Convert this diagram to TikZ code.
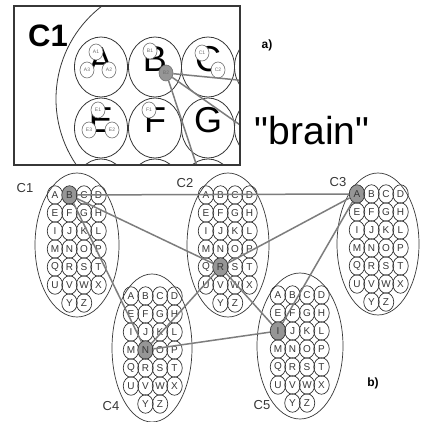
\documentclass[tikz,border=0pt]{standalone}
\usepackage{fontspec}
\setmainfont{Liberation Sans}
\newfontfamily\brainfont[Ligatures=TeXOff]{Liberation Sans}
\usetikzlibrary{shapes.geometric}
\definecolor{ink}{RGB}{55,55,55}
\definecolor{linkgray}{RGB}{125,125,125}
\definecolor{hlgray}{RGB}{150,150,150}
\definecolor{subgray}{RGB}{110,110,110}
\tikzset{
  cell/.style={ellipse, draw=ink, line width=0.7pt, minimum width=15.5pt, minimum height=18.5pt, inner sep=0pt, font=\fontsize{10}{10}\selectfont, text=ink},
  hic1B/.style={fill=hlgray}, hic2R/.style={fill=hlgray}, hic3A/.style={fill=hlgray},
  hic4N/.style={fill=hlgray}, hic5I/.style={fill=hlgray},
  clusterell/.style={draw=ink, line width=0.7pt},
  link/.style={draw=linkgray, line width=1.5pt},
  clabel/.style={text=ink, font=\fontsize{13}{13}\selectfont, inner sep=0pt},
  bigcirc/.style={draw=ink, line width=0.8pt},
  bigletter/.style={font=\fontsize{36}{36}\selectfont, inner sep=0pt},
  sub/.style={ellipse, draw=subgray, fill=white, line width=0.6pt, minimum width=14pt, minimum height=16pt, inner sep=0pt, font=\fontsize{5}{5}\selectfont, text=subgray},
  subhl/.style={sub, fill=hlgray},
  panel/.style={font=\bfseries\fontsize{12}{12}\selectfont, inner sep=0pt}
}
\newcommand\mycluster[3]{%
  \foreach \L [count=\i from 0] in {A,B,C,D,E,F,G,H,I,J,K,L,M,N,O,P,Q,R,S,T,U,V,W,X} {
    \pgfmathtruncatemacro\cc{mod(\i,4)}
    \pgfmathtruncatemacro\rr{div(\i,4)}
    \node[cell, hi#1\L/.try] (#1\L) at ({#2+\cc*14.5},{#3+\rr*18}) {\L};
  }
  \node[cell] (#1Y) at ({#2+14.5},{#3+6*18}) {Y};
  \node[cell] (#1Z) at ({#2+29},{#3+6*18}) {Z};
}
\begin{document}
\begin{tikzpicture}[x=1pt, y=-1pt]
\useasboundingbox (0,0) rectangle (420,422);
\fill[white] (0,0) rectangle (420,422);

% ---------- top panel a) ----------
\begin{scope}
  \clip (14,6) rectangle (240,165);
  \draw[bigcirc] (173,99) circle [radius=117pt];
  \foreach \x in {101,155,208,261} {
    \foreach \y in {67,128,189} {
      \draw[bigcirc] (\x,\y) ellipse [x radius=26.5pt, y radius=30pt];
    }
  }
  \node[bigletter] (LA) at (101,60) {A};
  \node[bigletter] (LB) at (155,59) {B};
  \node[bigletter] (LC) at (208,59) {C};
  \node[bigletter] (LE) at (101,120) {E};
  \node[bigletter] (LF) at (155,120) {F};
  \node[bigletter] (LG) at (208,120) {G};
  \node[sub] (A1) at (96,52) {A1};
  \node[sub] (A3) at (87,70) {A3};
  \node[sub] (A2) at (109,70) {A2};
  \node[sub] (B1) at (150,51) {B1};
  \node[subhl] (B2) at (166,73) {B2};
  \node[sub] (C1s) at (202,53) {C1};
  \node[sub] (C2s) at (218,70) {C2};
  \node[sub] (E1) at (98,110) {E1};
  \node[sub] (E3) at (89,130) {E3};
  \node[sub] (E2) at (112,130) {E2};
  \node[sub] (F1) at (149,110) {F1};
  \coordinate (tA) at (243,80.5);
  \coordinate (tB) at (243,127);
  \coordinate (tC) at (197.5,168);
  \draw[link] (B2) -- (tA);
  \draw[link] (B2) -- (tB);
  \draw[link] (B2) -- (tC);
\end{scope}
\draw[draw=ink, line width=1.6pt] (14,6) rectangle (240,165);
\node[font=\bfseries\fontsize{31}{31}\selectfont, inner sep=0pt] (tC1) at (48,36) {C1};
\node[panel] (pa) at (267,45) {a)};
\node[font=\brainfont\fontsize{39}{39}\selectfont, inner sep=0pt, anchor=base] (brain) at (312,145) {"brain"};

% ---------- bottom panel b) ----------
\draw[clusterell] (77,245) ellipse [x radius=42pt, y radius=72pt];
\draw[clusterell] (228,245) ellipse [x radius=41pt, y radius=72pt];
\draw[clusterell] (378,244) ellipse [x radius=41pt, y radius=71pt];
\draw[clusterell] (152,348) ellipse [x radius=40pt, y radius=74pt];
\draw[clusterell] (300,346) ellipse [x radius=43pt, y radius=73pt];
\mycluster{c1}{55}{195}
\mycluster{c2}{206}{195}
\mycluster{c3}{357}{194}
\mycluster{c4}{131}{296}
\mycluster{c5}{278}{295}
\node[clabel] (l1) at (25,188) {C1};
\node[clabel] (l2) at (185,183) {C2};
\node[clabel] (l3) at (338,182) {C3};
\node[clabel] (l4) at (111,406) {C4};
\node[clabel] (l5) at (262,405) {C5};
\node[panel] (pb) at (373,383) {b)};

\draw[link] (c1B) -- (c3A);
\draw[link] (c1B) -- (c2R);
\draw[link] (c1B) -- (c4N);
\draw[link] (c2R) -- (c3A);
\draw[link] (c2R) -- (c5I);
\draw[link] (c2R) -- (c4N);
\draw[link] (c4N) -- (c5I);
\draw[link] (c3A) -- (c5I);
\end{tikzpicture}
\end{document}
